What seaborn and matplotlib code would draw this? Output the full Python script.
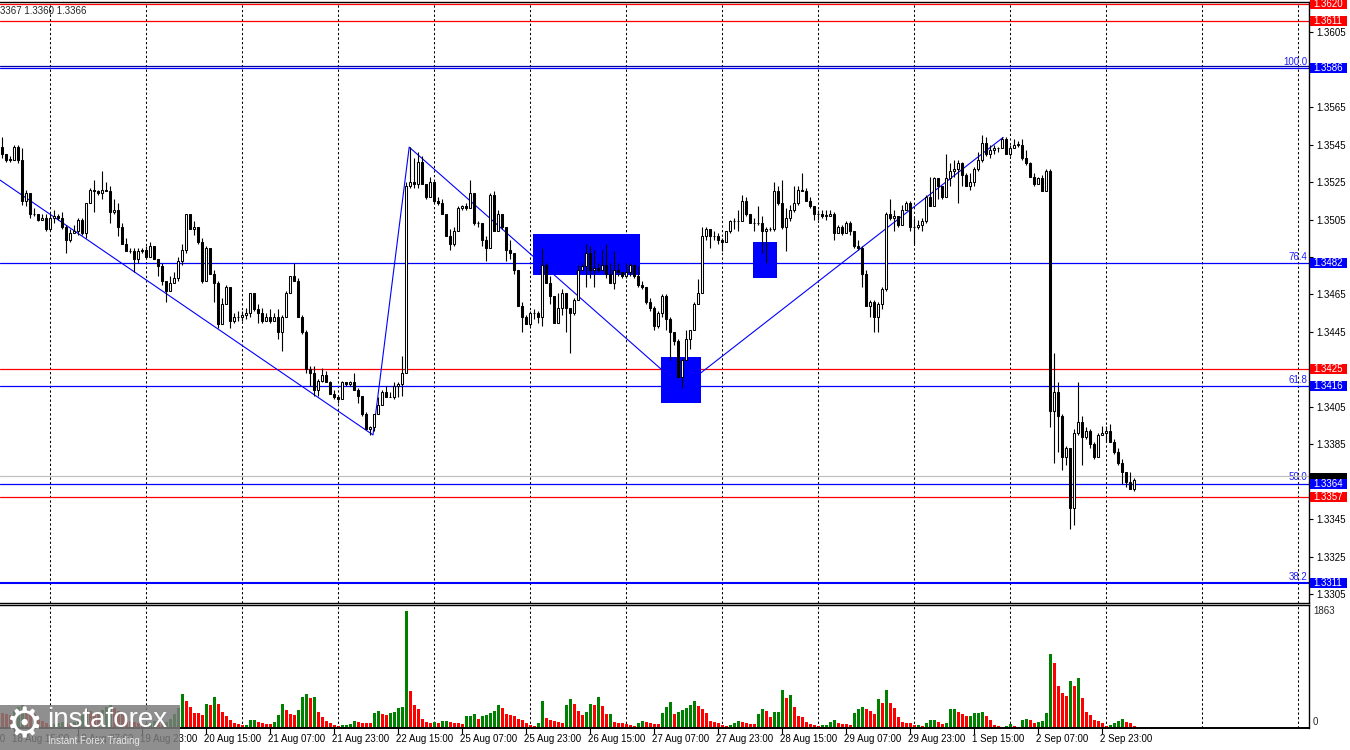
import numpy as np
import pandas as pd
import matplotlib
matplotlib.use("Agg")
import matplotlib.pyplot as plt
from matplotlib.patches import Rectangle
import seaborn as sns

sns.set_theme(style="white")
plt.rcParams["font.family"] = ["Liberation Sans", "DejaVu Sans"]

# ------------------------------------------
# Data (H1 candles, prices x 10 000)
# ------------------------------------------
first_open = 13544
closes = [
    13540, 13537, 13537, 13544, 13537, 13515, 13519, 13508, 13508, 13505,
    13506, 13500, 13506, 13507, 13506, 13501, 13494, 13498, 13499, 13505,
    13498, 13514, 13521, 13520, 13519, 13521, 13520, 13509, 13510, 13501,
    13492, 13488, 13488, 13484, 13488, 13489, 13485, 13491, 13484, 13480,
    13472, 13467, 13471, 13474, 13483, 13489, 13508, 13500, 13501, 13493,
    13472, 13490, 13476, 13471, 13449, 13460, 13469, 13451, 13453, 13453,
    13454, 13455, 13466, 13457, 13455, 13451, 13453, 13451, 13453, 13445,
    13453, 13466, 13475, 13472, 13453, 13445, 13425, 13423, 13414, 13419,
    13422, 13418, 13412, 13410, 13409, 13418, 13417, 13418, 13414, 13411,
    13401, 13393, 13394, 13401, 13406, 13413, 13410, 13410, 13416, 13417,
    13423, 13523, 13525, 13524, 13536, 13524, 13517, 13525, 13515, 13514,
    13508, 13496, 13492, 13499, 13511, 13512, 13511, 13519, 13503, 13503,
    13494, 13490, 13518, 13499, 13508, 13501, 13489, 13487, 13478, 13459,
    13453, 13449, 13455, 13455, 13453, 13481, 13471, 13464, 13450, 13458,
    13466, 13458, 13455, 13462, 13478, 13480, 13487, 13478, 13479, 13478,
    13481, 13476, 13471, 13478, 13477, 13475, 13477, 13481, 13475, 13470,
    13469, 13461, 13458, 13448, 13455, 13464, 13452, 13445, 13440, 13421,
    13430, 13441, 13446, 13460, 13466, 13496, 13500, 13496, 13496, 13494,
    13493, 13499, 13504, 13504, 13504, 13515, 13508, 13503, 13503, 13503,
    13499, 13500, 13500, 13520, 13514, 13501, 13506, 13510, 13514, 13521,
    13520, 13515, 13512, 13508, 13508, 13507, 13507, 13508, 13498, 13501,
    13498, 13503, 13499, 13491, 13490, 13476, 13459, 13461, 13453, 13460,
    13468, 13508, 13506, 13507, 13502, 13510, 13514, 13501, 13501, 13502,
    13504, 13517, 13512, 13527, 13523, 13517, 13527, 13531, 13532, 13535,
    13529, 13523, 13525, 13532, 13537, 13546, 13540, 13542, 13543, 13543,
    13548, 13540, 13543, 13545, 13545, 13538, 13535, 13528, 13524, 13527,
    13520, 13531, 13403, 13413, 13400, 13378, 13383, 13351, 13391, 13397,
    13389, 13392, 13385, 13378, 13390, 13391, 13392, 13386, 13381, 13375,
    13370, 13365, 13361, 13366,
]
highs = [
    13549, 13540, 13539, 13545, 13545, 13543, 13521, 13518, 13511, 13508,
    13508, 13508, 13508, 13510, 13508, 13509, 13502, 13500, 13502, 13506,
    13506, 13514, 13522, 13526, 13521, 13531, 13525, 13523, 13516, 13514,
    13503, 13495, 13490, 13490, 13490, 13490, 13491, 13493, 13491, 13484,
    13482, 13472, 13475, 13477, 13485, 13492, 13508, 13508, 13504, 13500,
    13495, 13491, 13488, 13478, 13472, 13463, 13470, 13469, 13455, 13456,
    13456, 13458, 13466, 13466, 13460, 13458, 13455, 13457, 13455, 13457,
    13454, 13467, 13475, 13482, 13474, 13454, 13446, 13427, 13427, 13420,
    13426, 13424, 13419, 13414, 13410, 13419, 13418, 13419, 13423, 13415,
    13411, 13402, 13395, 13401, 13410, 13414, 13416, 13413, 13418, 13418,
    13432, 13525, 13544, 13538, 13541, 13539, 13524, 13528, 13524, 13517,
    13516, 13508, 13500, 13501, 13512, 13513, 13514, 13526, 13518, 13504,
    13501, 13496, 13519, 13520, 13510, 13508, 13501, 13494, 13487, 13478,
    13461, 13454, 13456, 13457, 13456, 13490, 13482, 13475, 13464, 13466,
    13468, 13466, 13457, 13463, 13481, 13482, 13492, 13491, 13489, 13482,
    13489, 13492, 13482, 13488, 13482, 13477, 13482, 13482, 13481, 13480,
    13472, 13469, 13463, 13459, 13456, 13465, 13465, 13453, 13445, 13441,
    13431, 13446, 13446, 13461, 13473, 13501, 13501, 13500, 13499, 13498,
    13495, 13499, 13505, 13506, 13510, 13518, 13517, 13508, 13506, 13512,
    13507, 13501, 13501, 13525, 13523, 13526, 13511, 13513, 13523, 13523,
    13530, 13522, 13517, 13512, 13510, 13510, 13510, 13510, 13509, 13502,
    13502, 13504, 13504, 13499, 13494, 13491, 13478, 13462, 13462, 13461,
    13469, 13509, 13516, 13510, 13507, 13513, 13515, 13515, 13506, 13505,
    13506, 13518, 13528, 13528, 13526, 13523, 13540, 13535, 13537, 13537,
    13536, 13530, 13530, 13533, 13541, 13550, 13549, 13545, 13545, 13544,
    13549, 13549, 13545, 13548, 13547, 13548, 13542, 13536, 13530, 13528,
    13529, 13532, 13532, 13434, 13418, 13401, 13384, 13383, 13393, 13418,
    13400, 13394, 13393, 13386, 13391, 13395, 13395, 13396, 13388, 13383,
    13377, 13370, 13370, 13367,
]
lows = [
    13538, 13536, 13536, 13537, 13535, 13513, 13512, 13506, 13507, 13504,
    13505, 13499, 13500, 13503, 13505, 13500, 13487, 13493, 13498, 13497,
    13497, 13495, 13514, 13509, 13518, 13516, 13520, 13503, 13508, 13496,
    13492, 13488, 13487, 13477, 13482, 13487, 13485, 13486, 13484, 13475,
    13470, 13461, 13467, 13472, 13472, 13481, 13487, 13500, 13497, 13492,
    13471, 13472, 13476, 13461, 13447, 13453, 13461, 13447, 13450, 13451,
    13451, 13452, 13453, 13456, 13450, 13450, 13451, 13450, 13451, 13441,
    13435, 13453, 13467, 13472, 13453, 13444, 13423, 13416, 13411, 13411,
    13418, 13418, 13412, 13409, 13407, 13409, 13416, 13416, 13414, 13407,
    13400, 13393, 13390, 13392, 13401, 13406, 13410, 13410, 13409, 13410,
    13411, 13423, 13522, 13522, 13522, 13524, 13516, 13518, 13514, 13513,
    13508, 13496, 13489, 13491, 13499, 13510, 13510, 13511, 13502, 13501,
    13491, 13483, 13490, 13499, 13501, 13500, 13483, 13484, 13476, 13459,
    13445, 13449, 13448, 13452, 13450, 13448, 13471, 13460, 13450, 13450,
    13454, 13445, 13434, 13454, 13464, 13478, 13469, 13474, 13469, 13477,
    13478, 13474, 13471, 13468, 13475, 13474, 13474, 13475, 13474, 13469,
    13468, 13460, 13456, 13446, 13447, 13453, 13446, 13430, 13438, 13421,
    13415, 13430, 13436, 13446, 13460, 13466, 13494, 13490, 13494, 13492,
    13488, 13493, 13498, 13500, 13499, 13504, 13507, 13503, 13499, 13502,
    13487, 13482, 13499, 13499, 13513, 13500, 13488, 13504, 13509, 13513,
    13520, 13515, 13511, 13505, 13505, 13506, 13505, 13507, 13494, 13498,
    13497, 13498, 13497, 13490, 13489, 13469, 13459, 13453, 13445, 13445,
    13457, 13467, 13505, 13499, 13501, 13503, 13510, 13499, 13492, 13500,
    13499, 13503, 13512, 13512, 13516, 13516, 13517, 13523, 13528, 13514,
    13523, 13523, 13521, 13523, 13531, 13536, 13539, 13538, 13540, 13541,
    13543, 13540, 13539, 13543, 13544, 13537, 13534, 13528, 13523, 13525,
    13520, 13520, 13394, 13375, 13381, 13371, 13374, 13340, 13342, 13390,
    13374, 13388, 13383, 13377, 13378, 13390, 13386, 13386, 13380, 13374,
    13364, 13362, 13361, 13360,
]
volumes = [
    232, 216, 200, 264, 328, 360, 296, 264, 216, 136,
    104, 72, 40, 56, 72, 88, 72, 56, 88, 136,
    200, 296, 264, 232, 216, 280, 328, 360, 312, 264,
    232, 168, 104, 88, 72, 40, 56, 72, 104, 88,
    72, 88, 136, 216, 312, 536, 424, 333, 237, 235,
    200, 387, 360, 493, 376, 253, 184, 131, 77, 67,
    40, 50, 120, 125, 93, 77, 67, 56, 88, 200,
    376, 291, 216, 214, 280, 493, 536, 483, 493, 253,
    173, 109, 77, 51, 24, 40, 48, 67, 109, 88,
    86, 84, 77, 232, 264, 216, 200, 232, 248, 312,
    330, 1863, 584, 360, 296, 136, 88, 72, 88, 72,
    104, 108, 88, 84, 72, 70, 184, 190, 216, 136,
    184, 200, 232, 264, 360, 312, 216, 214, 184, 136,
    120, 72, 40, 35, 78, 424, 163, 131, 109, 88,
    86, 360, 456, 376, 269, 200, 248, 387, 360, 493,
    344, 216, 224, 88, 86, 72, 56, 40, 38, 72,
    104, 88, 72, 70, 56, 232, 328, 408, 216, 248,
    280, 312, 360, 424, 344, 296, 232, 104, 88, 72,
    40, 38, 48, 72, 104, 88, 72, 70, 68, 216,
    296, 264, 168, 248, 256, 600, 472, 520, 328, 184,
    180, 88, 56, 40, 24, 40, 48, 88, 120, 72,
    70, 56, 54, 232, 296, 328, 296, 264, 216, 456,
    392, 600, 392, 312, 168, 88, 86, 72, 40, 48,
    24, 72, 120, 128, 88, 56, 72, 296, 304, 248,
    216, 184, 192, 232, 240, 248, 184, 120, 40, 38,
    20, 28, 56, 24, 22, 120, 136, 120, 72, 88,
    104, 232, 1176, 1032, 664, 552, 504, 744, 664, 792,
    472, 248, 200, 120, 104, 72, 24, 40, 72, 104,
    136, 88, 86, 24,
]

tick_idx = [-13, 3, 19, 35, 51, 67, 83, 99, 115, 131, 147, 163, 179, 195, 211, 227, 243, 259, 275]
tick_labels = ["17 Aug 23:00", "18 Aug 15:00", "19 Aug 07:00", "19 Aug 23:00", "20 Aug 15:00",
               "21 Aug 07:00", "21 Aug 23:00", "22 Aug 15:00", "25 Aug 07:00", "25 Aug 23:00",
               "26 Aug 15:00", "27 Aug 07:00", "27 Aug 23:00", "28 Aug 15:00", "29 Aug 07:00",
               "29 Aug 23:00", "1 Sep 15:00", "2 Sep 07:00", "2 Sep 23:00"]

# horizontal levels
red_levels = [1.3620, 1.3611, 1.3425, 1.3357]
fib_levels = [1.3586, 1.3482, 1.3416, 1.3364, 1.3311]
fib_names = ["100.0", "76.4", "61.8", "50.0", "38.2"]
ask_level = 1.3368
last_price = 1.3367

# zigzag (candle index, price)
zz_idx = [-0.5, 92.75, 101.8, 170.0, 250.3]
zz_price = [1.35261, 1.3390, 1.35437, 1.34153, 1.35489]

# blue zones (start idx, end idx, top, bottom)
zone_x0 = [132.75, 164.75, 187.75]
zone_x1 = [159.5, 174.75, 193.75]
zone_top = [1.34973, 1.34316, 1.34930]
zone_bot = [1.34752, 1.34070, 1.34738]

# ------------------------------------------
# Prepare
# ------------------------------------------
n = len(closes)
idx = np.arange(n)
c = np.array(closes) / 1e4
o = np.array([first_open] + closes[:-1]) / 1e4
h = np.array(highs) / 1e4
l = np.array(lows) / 1e4

W, H = 1350, 750
fig = plt.figure(figsize=(13.5, 7.5), dpi=100)
fig.patch.set_facecolor("white")


def fx(px):
    return px / W


def fy(py):
    return 1 - py / H


ax = fig.add_axes([0, fy(602.5), fx(1309), (602.5 - 2) / H])
axv = fig.add_axes([0, fy(728), fx(1309), (728 - 604.5) / H])
FS = 7.0
XMAX = 326.75

# ------------------------------------------
# Price panel
# ------------------------------------------
for g in range(12, 330, 24):
    ax.axvline(g, color="black", lw=0.75, ls=(0, (2.2, 2.2)), zorder=1)
    axv.axvline(g, color="black", lw=0.75, ls=(0, (2.2, 2.2)), zorder=0)

for p in red_levels:
    ax.axhline(p, color="#ff0000", lw=0.9, zorder=2)
for p, name in zip(fib_levels, fib_names):
    ax.axhline(p, color="#0000ff", lw=1.5 if name == "38.2" else 0.9, zorder=2)
    ax.annotate(name, xy=(1307 / 1309, p), xycoords=ax.get_yaxis_transform(),
                xytext=(0, 0.8), textcoords="offset points", ha="right", va="bottom",
                color="#2020ff", fontsize=FS, zorder=2)
ax.axhline(fib_levels[0] + 0.0001, color="#0000a0", lw=0.9, zorder=2)
ax.axhline(ask_level, color="#c0c0c0", lw=0.9, zorder=2)

ax.plot(zz_idx, zz_price, color="#0000ff", lw=0.8, zorder=2)

for x0, x1, top, bot in zip(zone_x0, zone_x1, zone_top, zone_bot):
    ax.add_patch(Rectangle((x0, bot), x1 - x0, top - bot, color="#0000ff", lw=0, zorder=3))

up = c >= o
ax.vlines(idx, l, h, color="black", lw=0.8, zorder=4)
ax.bar(idx, np.maximum(np.abs(c - o), 0.00002), bottom=np.minimum(o, c), width=0.72,
       color=np.where(up, "white", "black"), edgecolor="black", linewidth=0.75, zorder=5)

ax.set_xlim(-0.5, XMAX)
ax.set_ylim(1.33005, 1.36212)
ax.set_xticks([])
ax.yaxis.tick_right()
grid_vals = np.arange(13305, 13606, 20)
covered = {13585, 13485, 13425, 13365}
ax.set_yticks(grid_vals / 1e4)
ax.set_yticklabels(["" if v in covered else f"{v / 1e4:.4f}" for v in grid_vals])
ax.tick_params(axis="y", right=True, left=False, labelright=True, labelleft=False,
               direction="out", length=3, width=0.8, pad=2, labelsize=FS, colors="black")
for s in ["top", "right", "bottom"]:
    ax.spines[s].set_color("black")
    ax.spines[s].set_linewidth(1)
ax.spines["left"].set_visible(False)

tag_z = [10]


def price_tag(price, text, color):
    z = tag_z[0]
    ax.add_patch(Rectangle((1.0008, price - 0.000267), 0.0282, 0.000534,
                           transform=ax.get_yaxis_transform(), color=color, lw=0,
                           clip_on=False, zorder=z))
    ax.text(1.0035, price, text, transform=ax.get_yaxis_transform(), color="white",
            fontsize=FS, va="center", ha="left", clip_on=False, zorder=z + 0.5)
    tag_z[0] += 1


for p in red_levels:
    price_tag(p, f"{p:.4f}", "#ff0000")
price_tag(last_price, "", "black")
for p in fib_levels:
    price_tag(p, f"{p:.4f}", "#0000ff")

# ------------------------------------------
# Volume panel (seaborn bars)
# ------------------------------------------
vol_kind = ["up" if i > 0 and volumes[i] > volumes[i - 1] else "down" for i in range(n)]
vdf = pd.DataFrame({"idx": idx, "volume": volumes, "kind": vol_kind})
sns.barplot(data=vdf, x="idx", y="volume", hue="kind",
            palette={"up": "#008000", "down": "#ff0000"}, dodge=False, width=0.75,
            saturation=1, errorbar=None, legend=False, linewidth=0, ax=axv)
axv.set_xlim(-0.5, XMAX)
axv.set_ylim(0, 1966)
axv.set_xlabel("")
axv.set_ylabel("")
axv.set_yticks([])
axv.set_xticks([t for t in tick_idx if t >= 0])
axv.set_xticklabels([])
axv.tick_params(axis="x", bottom=True, direction="out", length=4, width=0.8, colors="black")
for s in ["top", "right", "bottom"]:
    axv.spines[s].set_color("black")
    axv.spines[s].set_linewidth(1)
axv.spines["bottom"].set_linewidth(1.4)
axv.spines["left"].set_visible(False)

for t, lab in zip(tick_idx, tick_labels):
    axv.text(t - 0.4, -11.5 / 123.5, lab, transform=axv.get_xaxis_transform(),
             ha="left", va="center", fontsize=FS, color="black", clip_on=False)

fig.text(fx(1313), fy(611), "1863", ha="left", va="center", fontsize=FS)
fig.text(fx(1313), fy(722), "0", ha="left", va="center", fontsize=FS)

# header with the last bar's prices
fig.text(fx(-8), fy(11), "1.3367 1.3360 1.3366", ha="left", va="center", fontsize=FS)

# watermark
fig.add_artist(Rectangle((0, 0), fx(180), 45 / H, transform=fig.transFigure,
                         color="#7b7b7b", alpha=0.85, lw=0, zorder=20))
fig.text(fx(5), fy(726), "\u2699", color="white", fontsize=30, ha="left", va="center", zorder=21)
fig.text(fx(47), fy(720), "instaforex", color="white", fontsize=20, ha="left", va="center", zorder=21)
fig.text(fx(48), fy(741), "Instant Forex Trading", color="#e6e6e6", fontsize=7,
         ha="left", va="center", zorder=21)

fig.savefig("out.png", dpi=100)
